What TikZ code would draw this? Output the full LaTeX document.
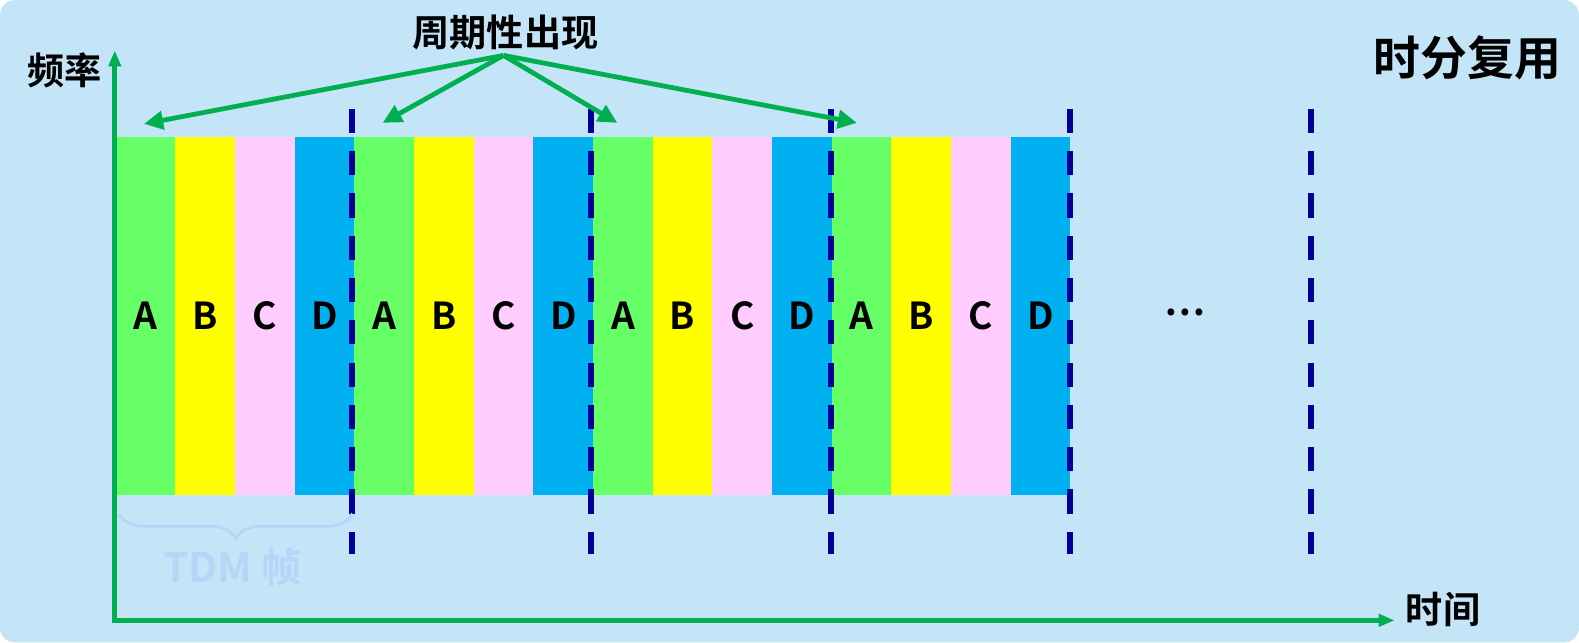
\documentclass[tikz,border=0pt]{standalone}
\usepackage{fontspec}
\newfontfamily\cjk{Noto Sans CJK SC}[UprightFont=* Bold]
\usetikzlibrary{arrows.meta,decorations.pathreplacing}

\definecolor{bgblue}{HTML}{C4E4F7}
\definecolor{slotA}{HTML}{66FF66}
\definecolor{slotB}{HTML}{FFFF00}
\definecolor{slotC}{HTML}{FFCCFF}
\definecolor{slotD}{HTML}{00B0F0}
\definecolor{axisgreen}{HTML}{00B050}
\definecolor{framedark}{HTML}{000099}
\definecolor{faintblue}{HTML}{B6D5F7}

\tikzset{
  slot/.style={anchor=north west,inner sep=0pt,outer sep=0pt,minimum width=11.85mm,
    minimum height=71.2mm,font=\cjk\fontsize{21}{25}\selectfont},
  lab/.style={inner sep=0pt,font=\cjk\fontsize{21}{25}\selectfont},
  axis/.style={axisgreen,line width=2.9pt,-{Triangle[length=3.2mm,width=2.4mm]}},
  pointer/.style={axisgreen,line width=2.7pt,-{Triangle[length=3.8mm,width=3.6mm]}},
  framesep/.style={framedark,line width=3.4pt,dash pattern=on 4.8mm off 3.6mm}
}

\begin{document}
\begin{tikzpicture}[x=0.2mm,y=-0.2mm]
  \useasboundingbox (0,0) rectangle (1568,638);
  \fill[white] (0,0) rectangle (1568,638);
  \fill[bgblue,rounded corners=3mm] (0,0) rectangle (1568,638);

  % time slots A B C D, four frames
  \foreach \k in {1,...,4}{
    \foreach \l/\c [count=\j from 0] in {A/slotA,B/slotB,C/slotC,D/slotD}
      \node[slot,fill=\c] (\l\k) at ({115+59.25*(4*(\k-1)+\j)},136) {\l};
  }
  \node[lab] (more) at (1177,310) {…};

  % frame boundaries
  \foreach \x in {350,587,825,1063,1302}
    \draw[framesep] (\x,108) -- (\x,550);

  % axes
  \coordinate (origin) at (114,616);
  \coordinate (ftop) at (114,50);
  \coordinate (tend) at (1385,616);
  \draw[axis] (origin) -- (ftop);
  \draw[axis] ([xshift=-2.9pt/2]origin) -- (tend);
  \node[lab] (freq) at (64,70) {频率};
  \node[lab] (time) at (1433,605) {时间};
  \node[lab,font=\cjk\fontsize{26.5}{31}\selectfont] (title) at (1457,57) {时分复用};

  % periodic appearance
  \node[lab] (period) at (502,32) {周期性出现};
  \coordinate (hub) at (500,55);
  \coordinate (p1) at (143,123);
  \coordinate (p2) at (380,122);
  \coordinate (p3) at (613,122);
  \coordinate (p4) at (851,122);
  \foreach \p in {p1,p2,p3,p4}
    \draw[pointer] (hub) -- (\p);

  % one TDM frame
  \draw[faintblue,line width=1.6pt,decorate,decoration={brace,mirror,amplitude=5mm}]
    (118,510) -- (350,510);
  \node[lab,faintblue,font=\cjk\fontsize{23}{28}\selectfont] (tdm) at (231,563) {TDM 帧};
\end{tikzpicture}
\end{document}
